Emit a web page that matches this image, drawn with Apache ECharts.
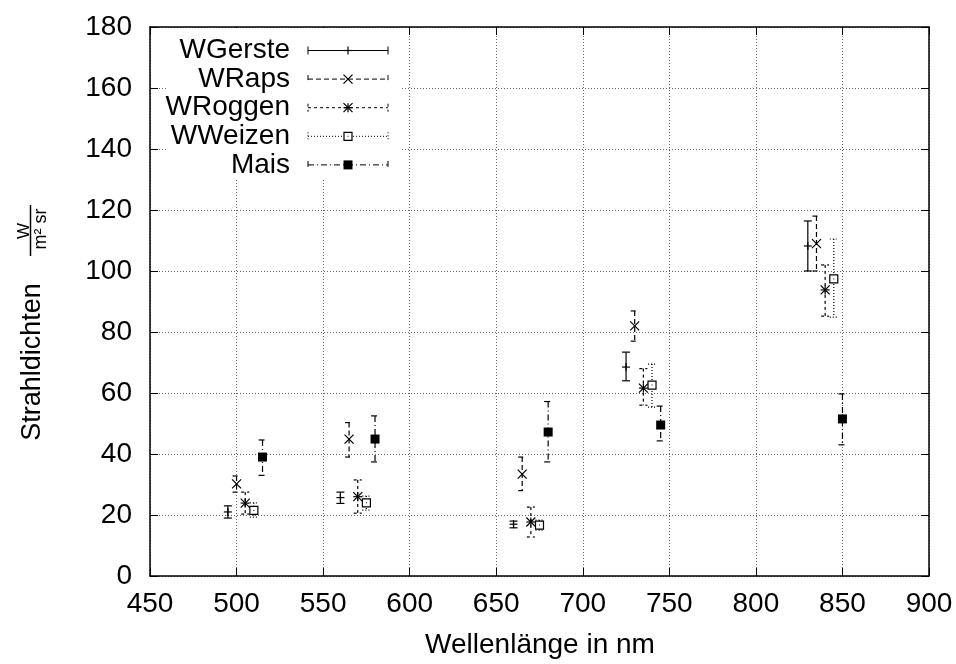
<!DOCTYPE html>
<html>
<head>
<meta charset="utf-8">
<script src="https://cdn.jsdelivr.net/npm/echarts@6/dist/echarts.min.js"></script>
<style>html,body{margin:0;padding:0;background:#fff}#c{width:956px;height:664px}</style>
</head>
<body>
<div id="c"></div>
<script>
// ---- data ----
const seriesNames = ['WGerste', 'WRaps', 'WRoggen', 'WWeizen', 'Mais'];

const gersteX    = [495, 560, 660, 725, 830];
const gersteY    = [21.0, 25.7, 17.0, 68.5, 108.2];
const gersteLow  = [19.0, 23.8, 15.8, 64.0, 100.0];
const gersteHigh = [23.0, 27.5, 18.0, 73.4, 116.4];

const rapsX    = [500, 565, 665, 730, 835];
const rapsY    = [30.2, 44.9, 33.4, 82.0, 109.0];
const rapsLow  = [27.5, 39.0, 28.0, 77.0, 100.0];
const rapsHigh = [32.8, 50.3, 39.0, 86.9, 118.0];

const roggenX    = [505, 570, 670, 735, 840];
const roggenY    = [23.9, 26.0, 17.7, 61.6, 93.8];
const roggenLow  = [20.3, 20.6, 12.8, 56.0, 85.2];
const roggenHigh = [27.5, 31.5, 22.6, 68.0, 102.0];

const weizenX    = [510, 575, 675, 740, 845];
const weizenY    = [21.5, 24.0, 16.7, 62.6, 97.4];
const weizenLow  = [19.3, 21.6, 15.0, 55.4, 84.9];
const weizenHigh = [24.0, 26.2, 18.3, 69.5, 110.5];

const maisX    = [515, 580, 680, 745, 850];
const maisY    = [39.0, 44.9, 47.2, 49.5, 51.5];
const maisLow  = [33.0, 37.4, 37.4, 44.3, 43.0];
const maisHigh = [44.6, 52.5, 57.2, 55.7, 59.7];

const xTicks = {min: 450, max: 900, interval: 50};
const yTicks = {min: 0, max: 180, interval: 20};

// ---- styling ----
const FONT = 'Liberation Sans, Arial, sans-serif';
const FS = 28;
const dashes = [null, [5, 3], [3, 3], [1, 2], [6, 3, 1, 3]];
const markers = ['plus', 'cross', 'star', 'box', 'filledBox'];

function pack(xs, ys, lo, hi) { return xs.map((x, i) => [x, ys[i], lo[i], hi[i]]); }
const allData = [
  pack(gersteX, gersteY, gersteLow, gersteHigh),
  pack(rapsX, rapsY, rapsLow, rapsHigh),
  pack(roggenX, roggenY, roggenLow, roggenHigh),
  pack(weizenX, weizenY, weizenLow, weizenHigh),
  pack(maisX, maisY, maisLow, maisHigh)
];

function markerShapes(kind, cx, cy) {
  const s = 4.5, st = {stroke: '#000', lineWidth: 1.2, fill: null};
  const line = (x1, y1, x2, y2) => ({type: 'line', shape: {x1, y1, x2, y2}, style: st});
  if (kind === 'plus') return [line(cx - 4, cy, cx + 4, cy), line(cx, cy - 4, cx, cy + 4)];
  if (kind === 'cross') return [line(cx - s, cy - s, cx + s, cy + s), line(cx - s, cy + s, cx + s, cy - s)];
  if (kind === 'star') return [line(cx - s, cy - s, cx + s, cy + s), line(cx - s, cy + s, cx + s, cy - s),
                               line(cx - s, cy, cx + s, cy), line(cx, cy - s, cx, cy + s)];
  if (kind === 'box') return [{type: 'rect', shape: {x: cx - 4, y: cy - 4, width: 8, height: 8},
                               style: {stroke: '#000', lineWidth: 1.2, fill: '#fff'}},
                              {type: 'rect', shape: {x: cx - 0.5, y: cy - 0.5, width: 1, height: 1}, style: {fill: '#000'}}];
  return [{type: 'rect', shape: {x: cx - 4.5, y: cy - 4.5, width: 9, height: 9}, style: {fill: '#000'}}];
}

function makeRender(idx) {
  return function (params, api) {
    const x = api.value(0), y = api.value(1), lo = api.value(2), hi = api.value(3);
    const p = api.coord([x, y]), pl = api.coord([x, lo]), ph = api.coord([x, hi]);
    const st = {stroke: '#000', lineWidth: 1.2, lineDash: dashes[idx] || null, fill: null};
    const cw = 4;
    const children = [
      {type: 'line', shape: {x1: p[0], y1: ph[1], x2: p[0], y2: pl[1]}, style: st},
      {type: 'line', shape: {x1: p[0] - cw, y1: ph[1], x2: p[0] + cw, y2: ph[1]}, style: st},
      {type: 'line', shape: {x1: p[0] - cw, y1: pl[1], x2: p[0] + cw, y2: pl[1]}, style: st}
    ].concat(markerShapes(markers[idx], p[0], p[1]));
    return {type: 'group', children};
  };
}

// legend graphic
const legendEls = [{type: 'rect', shape: {x: 166, y: 28, width: 234, height: 152}, style: {fill: '#fff'}, z: 1}];
seriesNames.forEach((name, i) => {
  const y = 50.5 + i * 28.6;
  legendEls.push({type: 'text', x: 290, y: y, z: 5,
    style: {text: name, font: FS + 'px ' + FONT, fill: '#000', textAlign: 'right', textVerticalAlign: 'middle'}});
  const st = {stroke: '#000', lineWidth: 1, lineDash: dashes[i] || null};
  legendEls.push({type: 'line', z: 5, shape: {x1: 308, y1: y, x2: 388, y2: y}, style: st});
  legendEls.push({type: 'line', z: 5, shape: {x1: 308, y1: y - 4, x2: 308, y2: y + 4}, style: st});
  legendEls.push({type: 'line', z: 5, shape: {x1: 388, y1: y - 4, x2: 388, y2: y + 4}, style: st});
  legendEls.push({type: 'group', z: 5, children: markerShapes(markers[i], 348, y).map(c => Object.assign(c, {z: 6}))});
});
// axis titles
legendEls.push({type: 'text', x: 33, y: 362, rotation: Math.PI / 2, z: 5,
  style: {text: 'Strahldichten', font: '27px ' + FONT, fill: '#000', textAlign: 'center', textVerticalAlign: 'middle'}});
legendEls.push({type: 'text', x: 24, y: 231, rotation: Math.PI / 2, z: 5,
  style: {text: 'W', font: '17px ' + FONT, fill: '#000', textAlign: 'center', textVerticalAlign: 'middle'}});
legendEls.push({type: 'line', z: 5, shape: {x1: 30.5, y1: 205, x2: 30.5, y2: 256}, style: {stroke: '#000', lineWidth: 1.5}});
legendEls.push({type: 'text', x: 41, y: 229, rotation: Math.PI / 2, z: 5,
  style: {text: 'm² sr', font: '18px ' + FONT, fill: '#000', textAlign: 'center', textVerticalAlign: 'middle'}});
legendEls.push({type: 'text', x: 540, y: 645, z: 5,
  style: {text: 'Wellenlänge in nm', font: FS + 'px ' + FONT, fill: '#000', textAlign: 'center', textVerticalAlign: 'middle'}});

const tickStyle = {show: true, inside: true, length: 8, lineStyle: {color: '#000', width: 1}};
const gridLine = {show: true, lineStyle: {color: '#666', width: 1, type: [1, 2]}};

const chart = echarts.init(document.getElementById('c'), null, {renderer: 'canvas'});
chart.setOption({
  animation: false,
  backgroundColor: '#fff',
  grid: {left: 150, right: 27, top: 27, bottom: 88},
  xAxis: [
    {type: 'value', position: 'bottom', min: xTicks.min, max: xTicks.max, interval: xTicks.interval, z: 3,
     axisLine: {show: true, onZero: false, lineStyle: {color: '#000', width: 1.5}}, axisTick: tickStyle,
     splitLine: {show: false},
     axisLabel: {fontFamily: FONT, fontSize: FS, color: '#000', margin: 14}},
    {type: 'value', position: 'top', min: xTicks.min, max: xTicks.max, interval: xTicks.interval, z: 0,
     axisLine: {show: true, onZero: false, lineStyle: {color: '#000', width: 1.5}}, axisTick: tickStyle,
     splitLine: gridLine, axisLabel: {show: false}}
  ],
  yAxis: [
    {type: 'value', position: 'left', min: yTicks.min, max: yTicks.max, interval: yTicks.interval, z: 3,
     axisLine: {show: true, onZero: false, lineStyle: {color: '#000', width: 1.5}}, axisTick: tickStyle,
     splitLine: {show: false},
     axisLabel: {fontFamily: FONT, fontSize: FS, color: '#000', margin: 18}},
    {type: 'value', position: 'right', min: yTicks.min, max: yTicks.max, interval: yTicks.interval, z: 0,
     axisLine: {show: true, onZero: false, lineStyle: {color: '#000', width: 1.5}}, axisTick: tickStyle,
     splitLine: gridLine, axisLabel: {show: false}}
  ],
  graphic: legendEls,
  series: allData.map((d, i) => ({
    type: 'custom', name: seriesNames[i], xAxisIndex: 0, yAxisIndex: 0, z: 4,
    renderItem: makeRender(i), encode: {x: 0, y: [1, 2, 3]}, data: d, clip: false
  }))
});
</script>
</body>
</html>
